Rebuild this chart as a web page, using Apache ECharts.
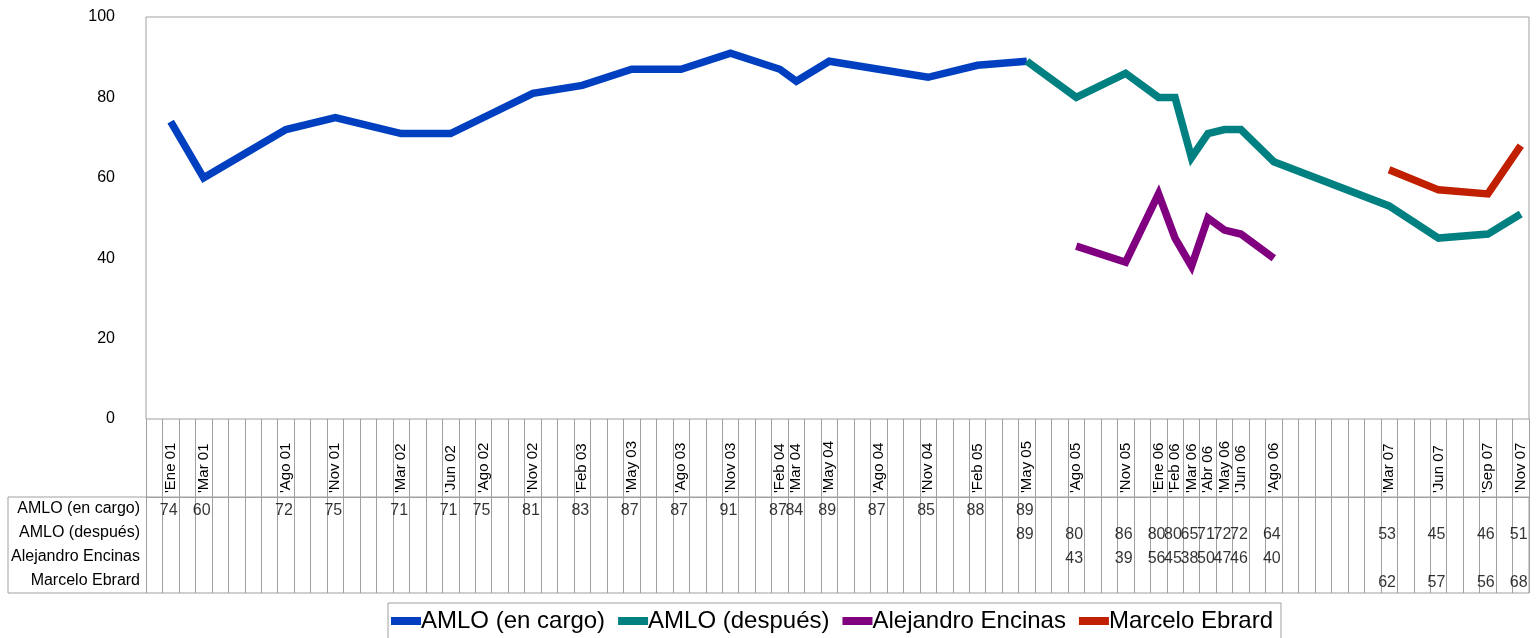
<!DOCTYPE html>
<html>
<head>
<meta charset="utf-8">
<script src="https://cdn.jsdelivr.net/npm/echarts@6/dist/echarts.min.js"></script>
<style>
  html, body { margin: 0; padding: 0; background: #fff; }
  #chart { width: 1536px; height: 638px; }
</style>
</head>
<body>
<div id="chart"></div>
<script>
// meses (Dic 00 .. Nov 07), solo algunos con etiqueta
var categories = [
  '',
  "'Ene 01", '', "'Mar 01", '', '', '', '', "'Ago 01", '', '', "'Nov 01", '',
  '', '', "'Mar 02", '', '', "'Jun 02", '', "'Ago 02", '', '', "'Nov 02", '',
  '', "'Feb 03", '', '', "'May 03", '', '', "'Ago 03", '', '', "'Nov 03", '',
  '', "'Feb 04", "'Mar 04", '', "'May 04", '', '', "'Ago 04", '', '', "'Nov 04", '',
  '', "'Feb 05", '', '', "'May 05", '', '', "'Ago 05", '', '', "'Nov 05", '',
  "'Ene 06", "'Feb 06", "'Mar 06", "'Abr 06", "'May 06", "'Jun 06", '', "'Ago 06", '', '', '', '',
  '', '', "'Mar 07", '', '', "'Jun 07", '', '', "'Sep 07", '', "'Nov 07"
];

var seriesNames = ['AMLO (en cargo)', 'AMLO (después)', 'Alejandro Encinas', 'Marcelo Ebrard'];
var colors = ['#0040C0', '#008080', '#800080', '#C02000'];

// [etiqueta, valor]
var amloCargo = [
  ["'Ene 01", 74], ["'Mar 01", 60], ["'Ago 01", 72], ["'Nov 01", 75],
  ["'Mar 02", 71], ["'Jun 02", 71], ["'Ago 02", 75], ["'Nov 02", 81],
  ["'Feb 03", 83], ["'May 03", 87], ["'Ago 03", 87], ["'Nov 03", 91],
  ["'Feb 04", 87], ["'Mar 04", 84], ["'May 04", 89], ["'Ago 04", 87],
  ["'Nov 04", 85], ["'Feb 05", 88], ["'May 05", 89]
];
var amloDespues = [
  ["'May 05", 89], ["'Ago 05", 80], ["'Nov 05", 86], ["'Ene 06", 80],
  ["'Feb 06", 80], ["'Mar 06", 65], ["'Abr 06", 71], ["'May 06", 72],
  ["'Jun 06", 72], ["'Ago 06", 64], ["'Mar 07", 53], ["'Jun 07", 45],
  ["'Sep 07", 46], ["'Nov 07", 51]
];
var encinas = [
  ["'Ago 05", 43], ["'Nov 05", 39], ["'Ene 06", 56], ["'Feb 06", 45],
  ["'Mar 06", 38], ["'Abr 06", 50], ["'May 06", 47], ["'Jun 06", 46],
  ["'Ago 06", 40]
];
var ebrard = [
  ["'Mar 07", 62], ["'Jun 07", 57], ["'Sep 07", 56], ["'Nov 07", 68]
];

var yTicks = [0, 20, 40, 60, 80, 100];

var allData = [amloCargo, amloDespues, encinas, ebrard];

// arreglo completo por mes, '-' donde no hay dato
function toLine(pairs) {
  var arr = categories.map(function () { return '-'; });
  pairs.forEach(function (p) { arr[categories.indexOf(p[0])] = p[1]; });
  return arr;
}

var font = 'Liberation Sans, Arial, sans-serif';
var gridColor = '#a0a0a0';

var chart = echarts.init(document.getElementById('chart'), null, { renderer: 'canvas' });

var series = [];
allData.forEach(function (pairs, i) {
  series.push({
    name: seriesNames[i],
    type: 'line',
    xAxisIndex: 0,
    yAxisIndex: 0,
    data: toLine(pairs),
    connectNulls: true,
    symbol: 'none',
    animation: false,
    lineStyle: { width: 7.5, color: colors[i], join: 'miter', cap: 'butt' },
    itemStyle: { color: colors[i] }
  });
});

// tabla de datos debajo del grafico
allData.forEach(function (pairs, i) {
  series.push({
    type: 'scatter',
    xAxisIndex: 2,
    yAxisIndex: 2,
    symbolSize: 1,
    silent: true,
    animation: false,
    itemStyle: { color: 'rgba(0,0,0,0)' },
    label: {
      show: true,
      position: 'inside',
      offset: [-2, 2],
      color: '#000',
      fontSize: 16,
      fontFamily: font,
      formatter: function (p) { return p.value[2]; }
    },
    data: pairs.map(function (p) { return [categories.indexOf(p[0]), i, p[1]]; })
  });
});

var option = {
  backgroundColor: '#fff',
  animation: false,
  textStyle: { fontFamily: font },
  grid: [
    { left: 146, right: 7, top: 17, height: 402, show: true, borderColor: gridColor, borderWidth: 1 },
    { left: 146, right: 7, top: 419, height: 78 },
    { left: 146, right: 7, top: 497, height: 96 }
  ],
  xAxis: [
    {
      gridIndex: 0, type: 'category', data: categories, boundaryGap: true,
      axisLine: { show: false }, axisTick: { show: false }, axisLabel: { show: false }
    },
    {
      gridIndex: 1, type: 'category', data: categories, boundaryGap: true,
      axisLine: { show: true, lineStyle: { color: gridColor } },
      axisTick: { show: false },
      axisLabel: {
        show: true, inside: true, rotate: 90, interval: 0, margin: 4,
        color: '#000', fontSize: 15, fontFamily: font
      },
      splitLine: { show: true, interval: 0, lineStyle: { color: gridColor, width: 1 } }
    },
    {
      gridIndex: 2, type: 'category', data: categories, boundaryGap: true,
      axisLine: { show: false },
      axisTick: { show: false }, axisLabel: { show: false },
      splitLine: { show: true, interval: 0, lineStyle: { color: gridColor, width: 1 } }
    }
  ],
  yAxis: [
    {
      gridIndex: 0, type: 'value', min: yTicks[0], max: yTicks[yTicks.length - 1], interval: 20,
      axisLine: { show: false }, axisTick: { show: false }, splitLine: { show: false },
      axisLabel: { color: '#000', fontSize: 16, fontFamily: font, margin: 31 }
    },
    { gridIndex: 1, type: 'value', show: false },
    {
      gridIndex: 2, type: 'category', data: seriesNames, inverse: true,
      axisLine: { show: false }, axisTick: { show: false }, splitLine: { show: false },
      axisLabel: { color: '#000', fontSize: 16, fontFamily: font, margin: 6 }
    }
  ],
  legend: {
    data: seriesNames,
    left: 388,
    top: 603,
    orient: 'horizontal',
    icon: 'rect',
    itemWidth: 30,
    itemHeight: 8,
    itemGap: 13,
    padding: [6, 8, 12, 3],
    borderColor: gridColor,
    borderWidth: 1,
    selectedMode: false,
    textStyle: { color: '#000', fontSize: 24, fontFamily: font, padding: [0, 0, 0, -5] }
  },
  graphic: [
    {
      type: 'rect',
      silent: true,
      shape: { x: 8, y: 497, width: 1521, height: 96 },
      style: { fill: null, stroke: gridColor, lineWidth: 1 }
    }
  ],
  series: series
};

chart.setOption(option);
</script>
</body>
</html>
